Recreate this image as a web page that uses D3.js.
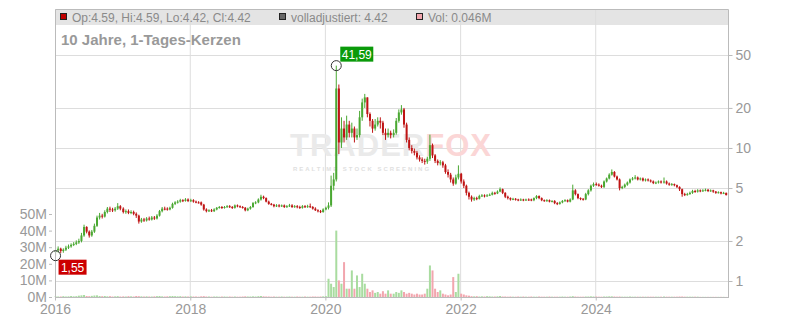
<!DOCTYPE html>
<html>
<head>
<meta charset="utf-8">
<script src="https://cdn.jsdelivr.net/npm/d3@7"></script>
<style>
  body { margin: 0; background: #fff; }
  svg { display: block; font-family: "Liberation Sans", Arial, sans-serif; }
</style>
</head>
<body>
<div id="chart"></div>
<script>
// bi-weekly candles (one row per year); open = previous close
const years = [2016, 2017, 2018, 2019, 2020, 2021, 2022, 2023, 2024, 2025];
const firstOpen = 1.65;

const close2016 = [1.70,1.75,1.68,1.72,1.78,1.82,1.87,1.90,1.95,2.00,2.20,2.55,2.35,2.20,2.35,2.60,3.00,3.10,3.05,3.30,3.50,3.45,3.40,3.50,3.65,3.50];
const high2016  = [1.80,1.82,1.78,1.76,1.84,1.88,1.92,1.96,2.02,2.08,2.30,2.65,2.58,2.40,2.42,2.70,3.10,3.25,3.20,3.40,3.60,3.62,3.55,3.60,3.85,3.72];
const low2016   = [1.55,1.64,1.62,1.63,1.68,1.74,1.78,1.83,1.86,1.90,1.95,2.15,2.28,2.12,2.15,2.30,2.55,2.90,2.95,3.00,3.22,3.30,3.30,3.32,3.42,3.40];

const close2017 = [3.30,3.35,3.25,3.30,3.20,3.10,2.80,2.90,2.85,2.95,2.90,3.00,2.95,3.10,3.35,3.50,3.50,3.45,3.55,3.80,3.90,3.95,4.05,4.00,4.10,4.00];
const high2017  = [3.58,3.45,3.45,3.40,3.38,3.28,3.15,2.98,2.98,3.02,3.05,3.08,3.08,3.18,3.42,3.60,3.62,3.58,3.62,3.88,3.98,4.05,4.15,4.12,4.20,4.18];
const low2017   = [3.22,3.20,3.18,3.18,3.12,2.98,2.70,2.74,2.78,2.80,2.84,2.85,2.88,2.90,3.05,3.28,3.40,3.38,3.40,3.50,3.72,3.82,3.88,3.92,3.95,3.92];

const close2018 = [4.05,3.95,3.90,3.90,3.75,3.45,3.35,3.40,3.35,3.45,3.55,3.60,3.55,3.60,3.65,3.60,3.55,3.70,3.65,3.60,3.55,3.40,3.50,3.60,3.85,3.90];
const high2018  = [4.15,4.12,4.02,3.98,3.96,3.80,3.52,3.46,3.48,3.52,3.60,3.66,3.66,3.66,3.72,3.72,3.66,3.76,3.76,3.70,3.66,3.60,3.56,3.66,3.92,3.98];
const low2018   = [3.92,3.88,3.84,3.82,3.68,3.38,3.28,3.30,3.30,3.30,3.40,3.50,3.48,3.50,3.55,3.54,3.48,3.50,3.58,3.54,3.50,3.34,3.35,3.44,3.55,3.78];

const close2019 = [4.10,4.30,4.20,3.95,3.80,3.75,3.65,3.70,3.65,3.70,3.60,3.65,3.70,3.60,3.65,3.60,3.55,3.65,3.60,3.65,3.60,3.50,3.40,3.35,3.30,3.45];
const high2019  = [4.18,4.45,4.38,4.25,4.02,3.86,3.80,3.78,3.78,3.76,3.76,3.72,3.80,3.78,3.72,3.72,3.68,3.72,3.72,3.74,3.82,3.66,3.58,3.46,3.42,3.52];
const low2019   = [3.84,4.02,4.12,3.90,3.74,3.70,3.58,3.60,3.58,3.60,3.54,3.55,3.60,3.54,3.55,3.52,3.48,3.50,3.54,3.55,3.54,3.44,3.36,3.28,3.24,3.26];

const close2020 = [3.55,3.70,5.20,5.80,28.0,11.0,14.0,12.0,15.0,13.0,14.0,12.0,12.5,17.0,22.0,24.0,18.0,16.0,14.0,15.0,16.0,15.5,13.0,12.5,13.0,12.5];
const high2020  = [3.62,3.90,6.20,6.50,41.59,30.0,17.0,16.0,17.5,16.0,15.5,14.5,14.0,19.0,23.5,25.5,24.0,18.5,16.5,16.5,17.0,17.0,16.0,14.0,14.0,13.5];
const low2020   = [3.40,3.45,3.60,4.80,5.60,9.0,10.0,11.0,11.5,12.0,12.0,11.0,11.5,12.0,16.0,20.0,17.0,14.5,13.0,13.5,14.5,14.0,12.5,11.5,12.0,11.8];

const close2021 = [13.0,16.0,18.5,19.5,15.0,11.5,10.0,9.50,9.20,8.50,8.20,8.00,7.90,8.30,10.5,8.80,8.00,7.70,7.80,7.40,6.60,6.30,5.80,5.40,6.00,6.40];
const high2021  = [13.8,16.8,19.5,21.0,20.0,15.5,12.0,10.5,9.90,9.50,8.80,8.50,8.30,8.60,12.6,10.8,9.00,8.20,8.10,8.00,7.60,6.90,6.50,6.00,6.30,7.40];
const low2021   = [12.0,12.6,15.5,17.8,14.2,11.0,9.60,9.10,8.80,8.20,7.90,7.70,7.50,7.60,8.00,8.40,7.70,7.40,7.40,7.10,6.40,6.00,5.50,5.20,5.30,5.80];

const close2022 = [5.60,5.20,4.60,4.30,4.10,4.20,4.15,4.35,4.40,4.35,4.40,4.45,4.60,4.55,4.70,4.90,4.60,4.30,4.20,4.10,4.15,4.10,4.05,4.10,4.05,4.10];
const high2022  = [6.50,5.80,5.30,4.70,4.40,4.30,4.30,4.45,4.50,4.48,4.50,4.55,4.70,4.68,4.80,5.05,4.95,4.65,4.38,4.25,4.22,4.20,4.15,4.18,4.15,4.16];
const low2022   = [5.40,5.00,4.40,4.10,3.95,4.00,4.05,4.10,4.28,4.25,4.30,4.35,4.40,4.45,4.50,4.65,4.50,4.20,4.10,4.02,4.05,4.02,3.98,4.00,3.98,4.00];

const close2023 = [4.10,4.05,4.20,4.35,4.20,4.05,4.00,4.05,3.95,4.00,3.85,3.80,3.90,4.00,4.05,3.95,4.10,4.80,4.50,4.20,4.15,4.10,4.50,4.80,5.20,5.35];
const high2023  = [4.18,4.16,4.25,4.42,4.40,4.25,4.10,4.12,4.10,4.05,4.05,3.92,3.96,4.06,4.12,4.10,4.18,5.30,4.90,4.55,4.25,4.20,4.60,4.90,5.30,5.50];
const low2023   = [4.00,3.98,3.98,4.12,4.12,3.98,3.94,3.94,3.90,3.90,3.78,3.72,3.75,3.84,3.94,3.90,3.90,4.05,4.40,4.12,4.05,4.02,4.05,4.40,4.70,5.10];

const close2024 = [5.30,5.20,5.10,5.60,5.90,6.30,6.60,6.10,5.80,5.00,5.10,5.30,5.50,5.80,5.90,6.00,5.80,5.90,5.70,5.80,5.70,5.60,5.45,5.50,5.60,5.50];
const high2024  = [5.50,5.42,5.30,5.70,6.00,6.45,6.90,6.70,6.20,5.90,5.20,5.40,5.60,5.90,6.05,6.25,6.10,6.00,6.00,5.90,5.90,5.80,5.70,5.60,5.70,5.70];
const low2024   = [5.20,5.12,5.00,5.00,5.50,5.80,6.20,6.00,5.70,4.80,4.90,5.00,5.20,5.40,5.70,5.80,5.70,5.70,5.60,5.60,5.60,5.50,5.35,5.35,5.40,5.40];

const close2025 = [5.60,5.40,5.30,5.35,5.25,5.10,4.90,4.50,4.45,4.50,4.60,4.75,4.70,4.80,4.75,4.80,4.85,4.75,4.80,4.70,4.60,4.65,4.55,4.60,4.42];
const high2025  = [6.00,5.70,5.50,5.45,5.40,5.30,5.15,4.95,4.60,4.60,4.70,4.85,4.85,4.90,4.88,4.90,4.95,4.92,4.88,4.85,4.75,4.72,4.70,4.68,4.62];
const low2025   = [5.40,5.30,5.20,5.20,5.15,5.00,4.75,4.30,4.35,4.38,4.45,4.52,4.60,4.62,4.65,4.68,4.72,4.66,4.68,4.60,4.52,4.55,4.48,4.50,4.40];

// volume in millions (typical daily volume per period)
const vol2016 = [0.4,0.3,0.3,0.5,0.3,0.4,0.6,0.4,0.5,0.8,1.0,1.2,0.6,0.5,0.7,0.9,1.0,0.6,0.5,0.6,0.4,0.5,0.3,0.4,0.5,0.3];
const vol2017 = [0.4,0.3,0.5,0.4,0.3,0.6,0.5,0.4,0.3,0.4,0.3,0.3,0.4,0.5,0.6,0.4,0.3,0.4,0.5,0.6,0.5,0.4,0.5,0.3,0.4,0.3];
const vol2018 = [0.4,0.3,0.3,0.2,0.4,0.5,0.3,0.3,0.2,0.3,0.3,0.2,0.3,0.3,0.2,0.3,0.2,0.3,0.2,0.2,0.3,0.4,0.3,0.3,0.4,0.3];
const vol2019 = [0.5,0.6,0.4,0.3,0.3,0.2,0.3,0.2,0.2,0.3,0.2,0.2,0.3,0.2,0.2,0.3,0.2,0.2,0.3,0.2,0.2,0.3,0.3,0.2,0.3,0.4];
const vol2020 = [0.5,11.0,8.0,6.0,40.0,10.0,8.0,21.0,5.0,5.0,16.0,5.0,13.0,6.0,14.0,8.0,5.0,3.0,4.0,2.5,3.0,2.0,3.5,2.0,4.0,2.0];
const vol2021 = [2.0,3.0,2.5,4.0,3.0,2.0,2.5,2.0,1.5,2.0,1.5,1.5,2.0,5.0,19.0,16.0,5.0,3.0,4.0,2.0,1.5,1.0,1.5,12.0,3.0,14.0];
const vol2022 = [2.0,1.5,1.0,0.8,0.5,0.4,0.5,0.3,0.4,0.3,0.5,0.4,0.3,0.3,0.4,0.6,0.3,0.3,0.2,0.3,0.2,0.2,0.3,0.2,0.3,0.2];
const vol2023 = [0.2,0.3,0.2,0.2,0.3,0.2,0.2,0.2,0.3,0.2,0.2,0.2,0.2,0.3,0.2,0.2,0.3,0.5,0.3,0.2,0.2,0.2,0.3,0.3,0.4,0.3];
const vol2024 = [0.3,0.2,0.2,0.3,0.3,0.4,0.4,0.3,0.2,0.3,0.2,0.2,0.2,0.3,0.2,0.2,0.2,0.2,0.2,0.2,0.2,0.2,0.2,0.2,0.2,0.2];
const vol2025 = [0.3,0.2,0.2,0.2,0.2,0.2,0.3,0.3,0.2,0.2,0.2,0.2,0.2,0.2,0.1,0.1,0.1,0.1,0.1,0.1,0.1,0.1,0.1,0.1,0.05];

const priceTicks = [1, 2, 5, 10, 20, 50];
const volTicks = [0, 10, 20, 30, 40, 50];
const yearTicks = [2016, 2018, 2020, 2022, 2024];

const legendItems = [
  { label: "Op:4.59, Hi:4.59, Lo:4.42, Cl:4.42", color: "#c00000", x: 60 },
  { label: "volladjustiert: 4.42", color: "#666666", x: 279 },
  { label: "Vol: 0.046M", color: "#f2a6ae", x: 416 }
];

const closesByYear = [close2016, close2017, close2018, close2019, close2020, close2021, close2022, close2023, close2024, close2025];
const highsByYear = [high2016, high2017, high2018, high2019, high2020, high2021, high2022, high2023, high2024, high2025];
const lowsByYear = [low2016, low2017, low2018, low2019, low2020, low2021, low2022, low2023, low2024, low2025];
const volsByYear = [vol2016, vol2017, vol2018, vol2019, vol2020, vol2021, vol2022, vol2023, vol2024, vol2025];

// build candles
const candles = [];
let prev = firstOpen;
years.forEach((yr, k) => {
  closesByYear[k].forEach((c, i) => {
    candles.push({
      date: new Date(yr, 0, 4 + 14 * i),
      open: prev, close: c,
      high: highsByYear[k][i], low: lowsByYear[k][i],
      vol: volsByYear[k][i]
    });
    prev = c;
  });
});

const W = 800, H = 320;
const box = { left: 55, right: 728, top: 9, bottom: 297 };

const svg = d3.select("#chart").append("svg").attr("width", W).attr("height", H);

const x = d3.scaleTime()
  .domain([new Date(2016, 0, 1), new Date(2026, 0, 1)])
  .range([box.left, box.left + 67.6 * 10]);
const y = d3.scaleLog().domain([1, 50]).range([281, 55]);
const yVol = d3.scaleLinear().domain([0, 50]).range([box.bottom, 214]);

const gridColor = "#dddddd";
const textColor = "#999999";

// header band
svg.append("rect").attr("x", box.left).attr("y", box.top).attr("width", box.right - box.left).attr("height", 16)
  .attr("fill", "#e4e4e4");

// grid
svg.append("g").selectAll("line").data(yearTicks.slice(1)).enter().append("line")
  .attr("x1", d => x(new Date(d, 0, 1))).attr("x2", d => x(new Date(d, 0, 1)))
  .attr("y1", box.top).attr("y2", box.bottom)
  .attr("stroke", gridColor);
svg.append("g").selectAll("line").data(priceTicks).enter().append("line")
  .attr("x1", box.left).attr("x2", box.right)
  .attr("y1", d => Math.round(y(d)) + 0.5).attr("y2", d => Math.round(y(d)) + 0.5)
  .attr("stroke", gridColor);

// watermark
const wm = svg.append("g").attr("font-weight", "bold");
const wmText = wm.append("text").attr("x", 391).attr("y", 156).attr("text-anchor", "middle")
  .attr("font-size", 31).attr("letter-spacing", 1);
wmText.append("tspan").attr("fill", "#eaeaea").text("TRADER");
wmText.append("tspan").attr("fill", "#fbd6d6").text("FOX");
wm.append("text").attr("x", 362).attr("y", 171).attr("text-anchor", "middle")
  .attr("font-size", 6).attr("letter-spacing", 2).attr("fill", "#e0e0e0")
  .text("REALTIME STOCK SCREENING");

// volume bars
const plot = svg.append("g");
plot.selectAll("rect.vol").data(candles).enter().append("rect")
  .attr("class", "vol")
  .attr("x", d => x(d.date) - 1)
  .attr("width", 2)
  .attr("y", d => yVol(d.vol))
  .attr("height", d => box.bottom - yVol(d.vol))
  .attr("fill", d => d.close > d.open ? "#a9dca0" : "#f2a6ae");

// candles
const up = "#4aa832", down = "#bf1414";
plot.selectAll("line.wick").data(candles).enter().append("line")
  .attr("class", "wick")
  .attr("x1", d => x(d.date)).attr("x2", d => x(d.date))
  .attr("y1", d => y(d.high)).attr("y2", d => y(d.low))
  .attr("stroke", d => d.close > d.open ? up : down)
  .attr("stroke-width", 1);
plot.selectAll("rect.body").data(candles).enter().append("rect")
  .attr("class", "body")
  .attr("x", d => x(d.date) - 1)
  .attr("width", 2)
  .attr("y", d => y(Math.max(d.open, d.close)))
  .attr("height", d => Math.max(1, Math.abs(y(d.open) - y(d.close))))
  .attr("fill", d => d.close > d.open ? up : down);

// frame
svg.append("path")
  .attr("d", `M${box.left + 0.5},${box.bottom}V${box.top + 0.5}H${box.right + 0.5}V${box.bottom}`)
  .attr("fill", "none").attr("stroke", "#bbbbbb");
svg.append("line").attr("x1", box.left).attr("x2", box.right + 1)
  .attr("y1", box.bottom + 0.5).attr("y2", box.bottom + 0.5).attr("stroke", "#bbbbbb");

// axes
const axisStyle = g => {
  g.select(".domain").remove();
  g.selectAll(".tick line").attr("stroke", "#bbbbbb");
  g.selectAll(".tick text").attr("fill", textColor).attr("font-size", 14)
    .attr("font-family", '"Liberation Sans", Arial, sans-serif');
};
svg.append("g").attr("transform", `translate(${box.right + 0.5},0)`)
  .call(d3.axisRight(y).tickValues(priceTicks).tickFormat(d3.format("d")).tickSize(4).tickPadding(3))
  .call(axisStyle);
svg.append("g").attr("transform", `translate(52,0)`)
  .call(d3.axisLeft(yVol).tickValues(volTicks).tickFormat(d => d + "M").tickSize(3).tickPadding(2))
  .call(axisStyle);
svg.append("g").attr("transform", `translate(0,${box.bottom + 0.5})`)
  .call(d3.axisBottom(x).tickValues(yearTicks.map(d => new Date(d, 0, 1)))
    .tickFormat(d3.timeFormat("%Y")).tickSize(3).tickPadding(4))
  .call(axisStyle);

// legend header
const lg = svg.append("g").selectAll("g").data(legendItems).enter().append("g");
lg.append("rect").attr("x", d => d.x + 0.5).attr("y", 13.5).attr("width", 6).attr("height", 6)
  .attr("fill", d => d.color).attr("stroke", "#222");
lg.append("text").attr("x", d => d.x + 12).attr("y", 21.5)
  .attr("font-size", 12).attr("fill", "#8a8a8a").text(d => d.label);

// title
svg.append("text").attr("x", 61).attr("y", 45)
  .attr("font-size", 15).attr("font-weight", "bold").attr("fill", textColor)
  .text("10 Jahre, 1-Tages-Kerzen");

// max / min markers
const de = d3.formatLocale({ decimal: ",", thousands: ".", grouping: [3], currency: ["", "€"] });
const fmt = de.format(".2f");
const maxC = candles.reduce((a, b) => b.high > a.high ? b : a);
const minC = candles.reduce((a, b) => b.low < a.low ? b : a);
function marker(px, py, value, color, dx, dy, w) {
  svg.append("circle").attr("cx", px).attr("cy", py).attr("r", 5)
    .attr("fill", "none").attr("stroke", "#333").attr("stroke-width", 1);
  svg.append("rect").attr("x", px + dx).attr("y", py + dy).attr("width", w).attr("height", 15)
    .attr("fill", color);
  svg.append("text").attr("x", px + dx + w / 2).attr("y", py + dy + 12)
    .attr("text-anchor", "middle").attr("font-size", 12).attr("fill", "#fff")
    .text(fmt(value));
}
marker(x(maxC.date), y(maxC.high), maxC.high, "#0a9a0a", 4, -19, 33);
marker(x(minC.date), y(minC.low), minC.low, "#cc0000", 3, 4, 28);
</script>
</body>
</html>
